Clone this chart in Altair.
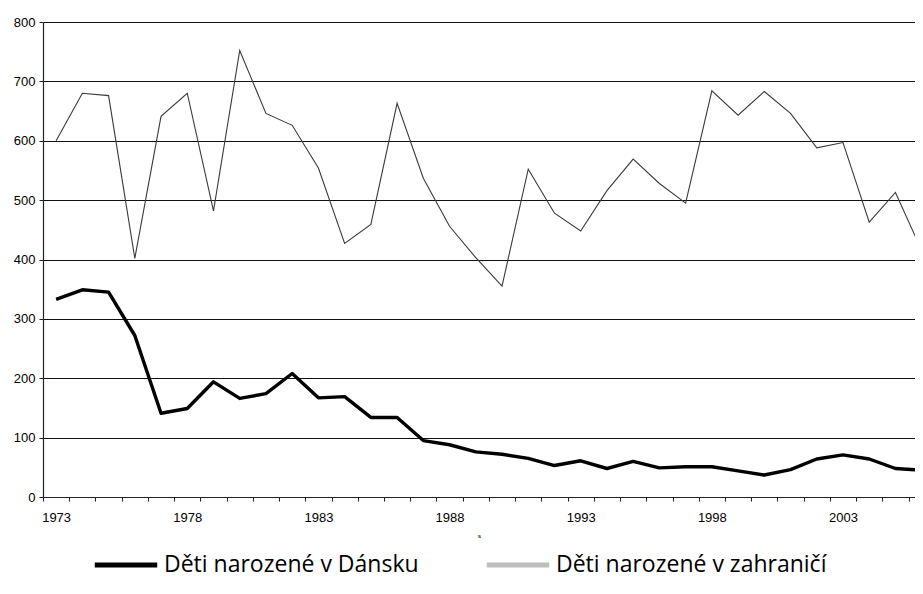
import altair as alt
import pandas as pd

years = list(range(1973, 2007))
born_denmark = [333, 349, 345, 272, 141, 149, 194, 166, 174, 208, 167, 169, 134, 134,
                95, 88, 76, 72, 65, 53, 61, 48, 60, 49, 51, 51, 44, 37, 46, 64, 71, 64, 48, 45]
born_abroad = [600, 680, 676, 402, 641, 680, 482, 752, 646, 626, 554, 427, 459, 663,
               537, 456, 403, 355, 552, 478, 448, 516, 569, 528, 495, 684, 643, 683, 646,
               588, 597, 463, 513, 415]
series_names = ["Děti narozené v Dánsku", "Děti narozené v zahraničí"]
series_colors = ["#000000", "#bfbfbf"]
y_ticks = [0, 100, 200, 300, 400, 500, 600, 700, 800]
x_boundaries = [y - 0.5 for y in years]

df = pd.DataFrame({
    "rok": years * 2,
    "pocet": born_denmark + born_abroad,
    "serie": [series_names[0]] * len(years) + [series_names[1]] * len(years),
})

x_scale = alt.Scale(domain=[1972.5, 2005.745], nice=False, zero=False)
y_scale = alt.Scale(domain=[0, 800], nice=False)
color_scale = alt.Scale(domain=series_names, range=series_colors)

x_axis = alt.Axis(
    values=x_boundaries,
    labelExpr="(datum.value + 0.5 - 1973) % 5 == 0 ? format(datum.value + 0.5, 'd') : ''",
    labelOffset=13.1,
    labelFlush=False,
    labelOverlap=False,
    labelBound=False,
    labelPadding=10,
    labelFont="Liberation Sans",
    labelFontSize=13,
    labelColor="#000000",
    tickSize=4,
    tickColor="#222222",
    domainColor="#222222",
    domainWidth=1.2,
    grid=False,
    title="s",
    titleFont="Liberation Sans",
    titleFontSize=6,
    titleFontWeight="bold",
    titleColor="#222222",
    titlePadding=8,
)
y_axis = alt.Axis(
    values=y_ticks,
    labelPadding=4,
    labelFont="Liberation Sans",
    labelFontSize=13,
    labelColor="#000000",
    tickSize=4,
    tickColor="#222222",
    domainColor="#222222",
    domainWidth=1.2,
    grid=True,
    gridColor="#111111",
    gridWidth=1.2,
    title="",
)

legend = alt.Legend(
    orient="none",
    direction="horizontal",
    legendX=49,
    legendY=509,
    title=None,
    symbolType="stroke",
    symbolSize=3900,
    symbolStrokeWidth=5,
    labelFont="Open Sans",
    labelFontSize=23,
    labelColor="#000000",
    labelOffset=4,
    labelLimit=0,
    columnPadding=57,
    padding=0,
)

base = alt.Chart(df)
x_enc = alt.X("rok:Q", scale=x_scale, axis=x_axis)
y_enc = alt.Y("pocet:Q", scale=y_scale, axis=y_axis)

legend_layer = base.mark_line(strokeWidth=5).encode(
    x=x_enc,
    y=y_enc,
    color=alt.Color("serie:N", scale=color_scale, legend=legend),
).transform_filter("datum.rok < 0")

thick_line = base.mark_line(strokeWidth=3.4, strokeJoin="round", clip=True).encode(
    x=x_enc,
    y=y_enc,
    color=alt.Color("serie:N", scale=color_scale, legend=None),
).transform_filter(alt.datum.serie == series_names[0])

thin_line = base.mark_line(color="#3a3a3a", strokeWidth=1.1, clip=True).encode(
    x=x_enc,
    y=y_enc,
).transform_filter(alt.datum.serie == series_names[1])

chart = alt.layer(legend_layer, thick_line, thin_line).properties(
    width=872,
    height=475,
    autosize=alt.AutoSizeParams(type="none"),
    padding={"left": 35, "top": 14, "right": 0, "bottom": 86},
).configure_view(strokeWidth=0)

chart.save("out.html", embed_options={"renderer": "svg", "actions": False})
